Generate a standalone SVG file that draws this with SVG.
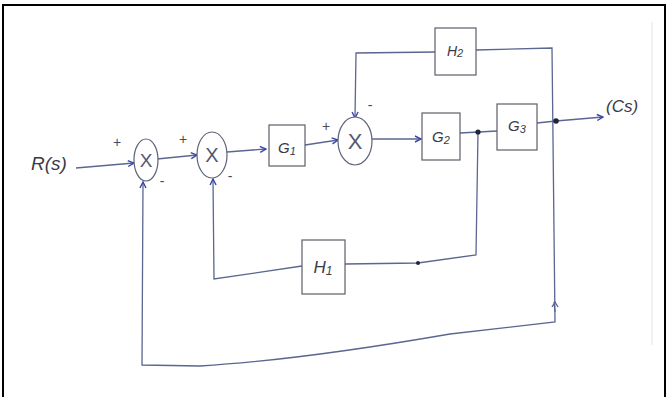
<svg xmlns="http://www.w3.org/2000/svg" width="668" height="397" viewBox="0 0 668 397">
<style>
.frame{fill:#fff;stroke:#000;stroke-width:2}
.w{fill:none;stroke:#5b6691;stroke-width:1.3}
.box{fill:#fff;stroke:#5e5e68;stroke-width:1.2}
.sum{fill:#fff;stroke:#5e6278;stroke-width:1.2}
.t{font-family:"Liberation Sans",Arial,sans-serif;fill:#3a3a48;font-style:italic}
.x{font-family:"Liberation Sans",Arial,sans-serif;fill:#55586e;text-anchor:middle}
.s{font-family:"Liberation Sans",Arial,sans-serif;fill:#4a4a58;font-size:14px;text-anchor:middle}
.dot{fill:#22243a}
</style>
<defs>
<marker id="ar" markerWidth="8" markerHeight="8" refX="7" refY="4" orient="auto" markerUnits="userSpaceOnUse">
<path d="M1,1 L7,4 L1,7" fill="none" stroke="#3a46a8" stroke-width="1.4"/>
</marker>
</defs>
<rect class="frame" x="3" y="5" width="662" height="395"/>
<line x1="652" y1="22" x2="652" y2="345" stroke="#e4e4e8" stroke-width="1"/>
<g id="connectors">
<path class="w" d="M76,168 L134,163" marker-end="url(#ar)"/>
<path class="w" d="M157,159 L197,155" marker-end="url(#ar)"/>
<path class="w" d="M227,152 L266,149" marker-end="url(#ar)"/>
<path class="w" d="M305,145 L338,140" marker-end="url(#ar)"/>
<path class="w" d="M372,139 L421,139" marker-end="url(#ar)"/>
<path class="w" d="M460,133 L497,131"/>
<path class="w" d="M537,123 L556,121 L603,117" marker-end="url(#ar)"/>
<path class="w" d="M436,52 L356,53 L355,118" marker-end="url(#ar)"/>
<path class="w" d="M476,50 L552,48 L555,322 L450,334 Q300,360 200,366 L142,365 L143,182" marker-end="url(#ar)"/>
<path class="w" d="M478,132 L476,255 L418,263 L345,264"/>
<path class="w" d="M302,266 L214,279 L213,179" marker-end="url(#ar)"/>
<path class="w" d="M554,302 L555,312 M552,307 L555,302 L558,307"/>
</g>
<circle class="dot" cx="478" cy="132" r="2.6"/>
<circle class="dot" cx="556" cy="121" r="2.8"/>
<circle class="dot" cx="418" cy="263" r="2"/>
<g id="R"><text class="t" x="31" y="170" font-size="19">R(s)</text></g>
<g id="C"><text class="t" x="606" y="112" font-size="17">(Cs)</text></g>
<g id="sum1">
<ellipse class="sum" cx="146" cy="160" rx="12" ry="21"/>
<text class="x" x="146" y="167" font-size="19">X</text>
<text class="s" x="117" y="147">+</text>
<text class="s" x="162" y="186">-</text>
</g>
<g id="sum2">
<ellipse class="sum" cx="212" cy="155" rx="15" ry="23"/>
<text class="x" x="212" y="162" font-size="20">X</text>
<text class="s" x="183" y="144">+</text>
<text class="s" x="230" y="181">-</text>
</g>
<g id="sum3">
<ellipse class="sum" cx="355" cy="141" rx="17" ry="24"/>
<text class="x" x="355" y="149" font-size="22">X</text>
<text class="s" x="326" y="131">+</text>
<text class="s" x="370" y="110">-</text>
</g>
<g id="G1">
<rect class="box" x="269" y="125" width="36" height="41"/>
<text class="t" x="287" y="153" font-size="15" text-anchor="middle">G<tspan font-size="11" dy="2">1</tspan></text>
</g>
<g id="G2">
<rect class="box" x="422" y="113" width="38" height="47"/>
<text class="t" x="441" y="142" font-size="15" text-anchor="middle">G<tspan font-size="11" dy="2">2</tspan></text>
</g>
<g id="G3">
<rect class="box" x="497" y="104" width="40" height="46"/>
<text class="t" x="517" y="131" font-size="15" text-anchor="middle">G<tspan font-size="11" dy="2">3</tspan></text>
</g>
<g id="H2">
<rect class="box" x="435" y="28" width="41" height="47"/>
<text class="t" x="455" y="56" font-size="14" text-anchor="middle">H<tspan font-size="11" dy="1">2</tspan></text>
</g>
<g id="H1">
<rect class="box" x="302" y="240" width="43" height="54"/>
<text class="t" x="323" y="273" font-size="17" text-anchor="middle">H<tspan font-size="12" dy="2">1</tspan></text>
</g>
</svg>
